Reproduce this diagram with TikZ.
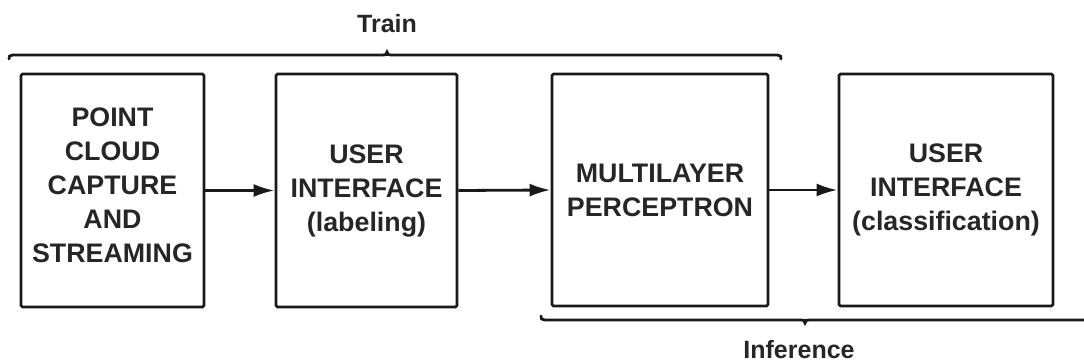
\documentclass[tikz,border=0pt]{standalone}
\usepackage{fontspec}
\setmainfont{Liberation Sans}
\usetikzlibrary{arrows.meta}
\begin{document}
\begin{tikzpicture}[x=1pt,y=-1pt,
  blk/.style={draw=black!90, line width=2.8pt, rounded corners=1.5pt, inner sep=0pt,
    align=center, font=\fontsize{26.8}{34}\selectfont\bfseries, text=black!85},
  lbl/.style={font=\fontsize{25}{30}\selectfont\bfseries, text=black!85, inner sep=1pt},
  conn/.style={line width=2.8pt, draw=black!90, -{Latex[length=21pt,width=13pt]}},
  brc/.style={line width=2.8pt, draw=black!90, line cap=round}]
\useasboundingbox (0,0) rectangle (1084,363);
\node[blk, minimum width=183pt, minimum height=233pt] (b1) at (112.5,190.5) {};
\node[align=center, font=\fontsize{26.8}{34}\selectfont\bfseries, text=black!85, inner sep=0pt] (t1) at (112.5,185.5) {POINT\\CLOUD\\CAPTURE\\AND\\STREAMING};
\node[blk, minimum width=181pt, minimum height=233pt] (b2) at (366.5,190.5) {USER\\INTERFACE\\(labeling)};
\node[blk, minimum width=216pt, minimum height=232pt] (b3) at (660,190) {MULTILAYER\\PERCEPTRON};
\node[blk, minimum width=214pt, minimum height=232pt] (b4) at (946,190) {USER\\INTERFACE\\(classification)};
\draw[conn] (b1.east) -- (b2.west);
\draw[conn] (b2.east) -- (b3.west);
\draw[conn] (b3.east) -- (b4.west);
% Train brace
\node[lbl] (train) at (387,24) {Train};
\draw[brc] (9,59) .. controls (9,56) .. (13,55) -- (383,55) .. controls (386,55) .. (387,52)
  .. controls (388,55) .. (391,55) -- (777,55) .. controls (781,56) .. (781,59);
% Inference brace
\node[lbl] (inf) at (799,350) {Inference};
\draw[brc] (541,316) .. controls (541,319) .. (545,320) -- (801,320) .. controls (804,320) .. (805,323)
  .. controls (806,320) .. (809,320) -- (1090,320);
\end{tikzpicture}
\end{document}
